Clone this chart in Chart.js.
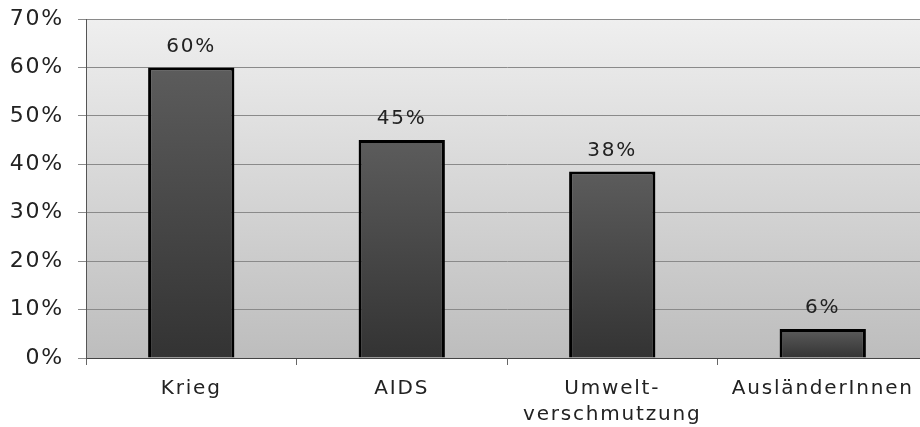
<!DOCTYPE html>
<html>
<head>
<meta charset="utf-8">
<script src="https://cdn.jsdelivr.net/npm/chart.js@4/dist/chart.umd.min.js"></script>
<style>
  html, body { margin: 0; padding: 0; background: #fff; overflow: hidden; }
  #wrap { position: relative; width: 928px; height: 427px; }
</style>
</head>
<body>
<div id="wrap"><canvas id="sorgen-chart"></canvas></div>
<script>
const categories = ['Krieg', 'AIDS', ['Umwelt-', 'verschmutzung'], 'AusländerInnen'];
const values = [60, 45, 38.5, 6];
const valueLabels = ['60%', '45%', '38%', '6%'];
const yTicks = [0, 10, 20, 30, 40, 50, 60, 70];

const FONT = '"DejaVu Sans", Verdana, sans-serif';
const SPACING = '1.8px';

// grey background behind the plot, also sets letter spacing for all text
const plotBackground = {
    id: 'plotBackground',
    beforeDraw(chart) {
        const { ctx, chartArea } = chart;
        if (!chartArea) return;
        ctx.save();
        const g = ctx.createLinearGradient(0, chartArea.top, 0, chartArea.bottom);
        g.addColorStop(0, '#efefef');
        g.addColorStop(1, '#bdbdbd');
        ctx.fillStyle = g;
        ctx.fillRect(chartArea.left, chartArea.top, chartArea.right - chartArea.left, chartArea.bottom - chartArea.top);
        ctx.restore();
        ctx.letterSpacing = SPACING;
    }
};

// percent labels above the bars
const barLabels = {
    id: 'barLabels',
    afterDatasetsDraw(chart) {
        const { ctx } = chart;
        const meta = chart.getDatasetMeta(0);
        ctx.save();
        ctx.letterSpacing = SPACING;
        ctx.font = '20px ' + FONT;
        ctx.fillStyle = '#222';
        ctx.textAlign = 'center';
        ctx.textBaseline = 'middle';
        meta.data.forEach((bar, i) => {
            ctx.fillText(valueLabels[i], bar.x, bar.y - 21);
        });
        ctx.restore();
    }
};

function barGradient(context) {
    const chart = context.chart;
    if (!chart.chartArea || context.parsed === undefined) return '#444';
    const y = chart.scales.y;
    const top = y.getPixelForValue(context.parsed.y);
    const base = y.getPixelForValue(0);
    const g = chart.ctx.createLinearGradient(0, top, 0, base);
    g.addColorStop(0, '#5c5c5c');
    g.addColorStop(1, '#333333');
    return g;
}

const ctx = document.getElementById('sorgen-chart').getContext('2d');
new Chart(ctx, {
    type: 'bar',
    data: {
        labels: categories,
        datasets: [{
            data: values,
            backgroundColor: barGradient,
            borderColor: '#000',
            borderWidth: 3,
            borderSkipped: 'start',
            categoryPercentage: 1,
            barPercentage: 0.41
        }]
    },
    options: {
        responsive: true,
        maintainAspectRatio: false,
        animation: false,
        layout: { padding: { top: 19, right: 0, bottom: 0, left: 0 } },
        plugins: {
            legend: { display: false },
            tooltip: { enabled: false }
        },
        scales: {
            x: {
                grid: {
                    offset: true,
                    drawOnChartArea: false,
                    drawTicks: true,
                    tickLength: 7,
                    color: '#666'
                },
                border: { color: '#444', width: 1 },
                ticks: {
                    color: '#222',
                    padding: 11,
                    maxRotation: 0,
                    autoSkip: false,
                    font: { family: FONT, size: 20, lineHeight: 1.3 }
                },
                afterFit(scale) {
                    scale.height = 69;
                    scale.paddingLeft = 0;
                    scale.paddingRight = 0;
                }
            },
            y: {
                min: 0,
                max: 70,
                afterBuildTicks(scale) {
                    scale.ticks = yTicks.map(v => ({ value: v }));
                },
                grid: {
                    color: '#8a8a8a',
                    tickLength: 8,
                    drawTicks: true
                },
                border: { color: '#555', width: 1 },
                ticks: {
                    color: '#222',
                    padding: 14,
                    font: { family: FONT, size: 22 },
                    callback: v => v + '%'
                },
                afterFit(scale) {
                    scale.width = 86;
                    scale.paddingTop = 0;
                    scale.paddingBottom = 0;
                }
            }
        }
    },
    plugins: [plotBackground, barLabels]
});
</script>
</body>
</html>
